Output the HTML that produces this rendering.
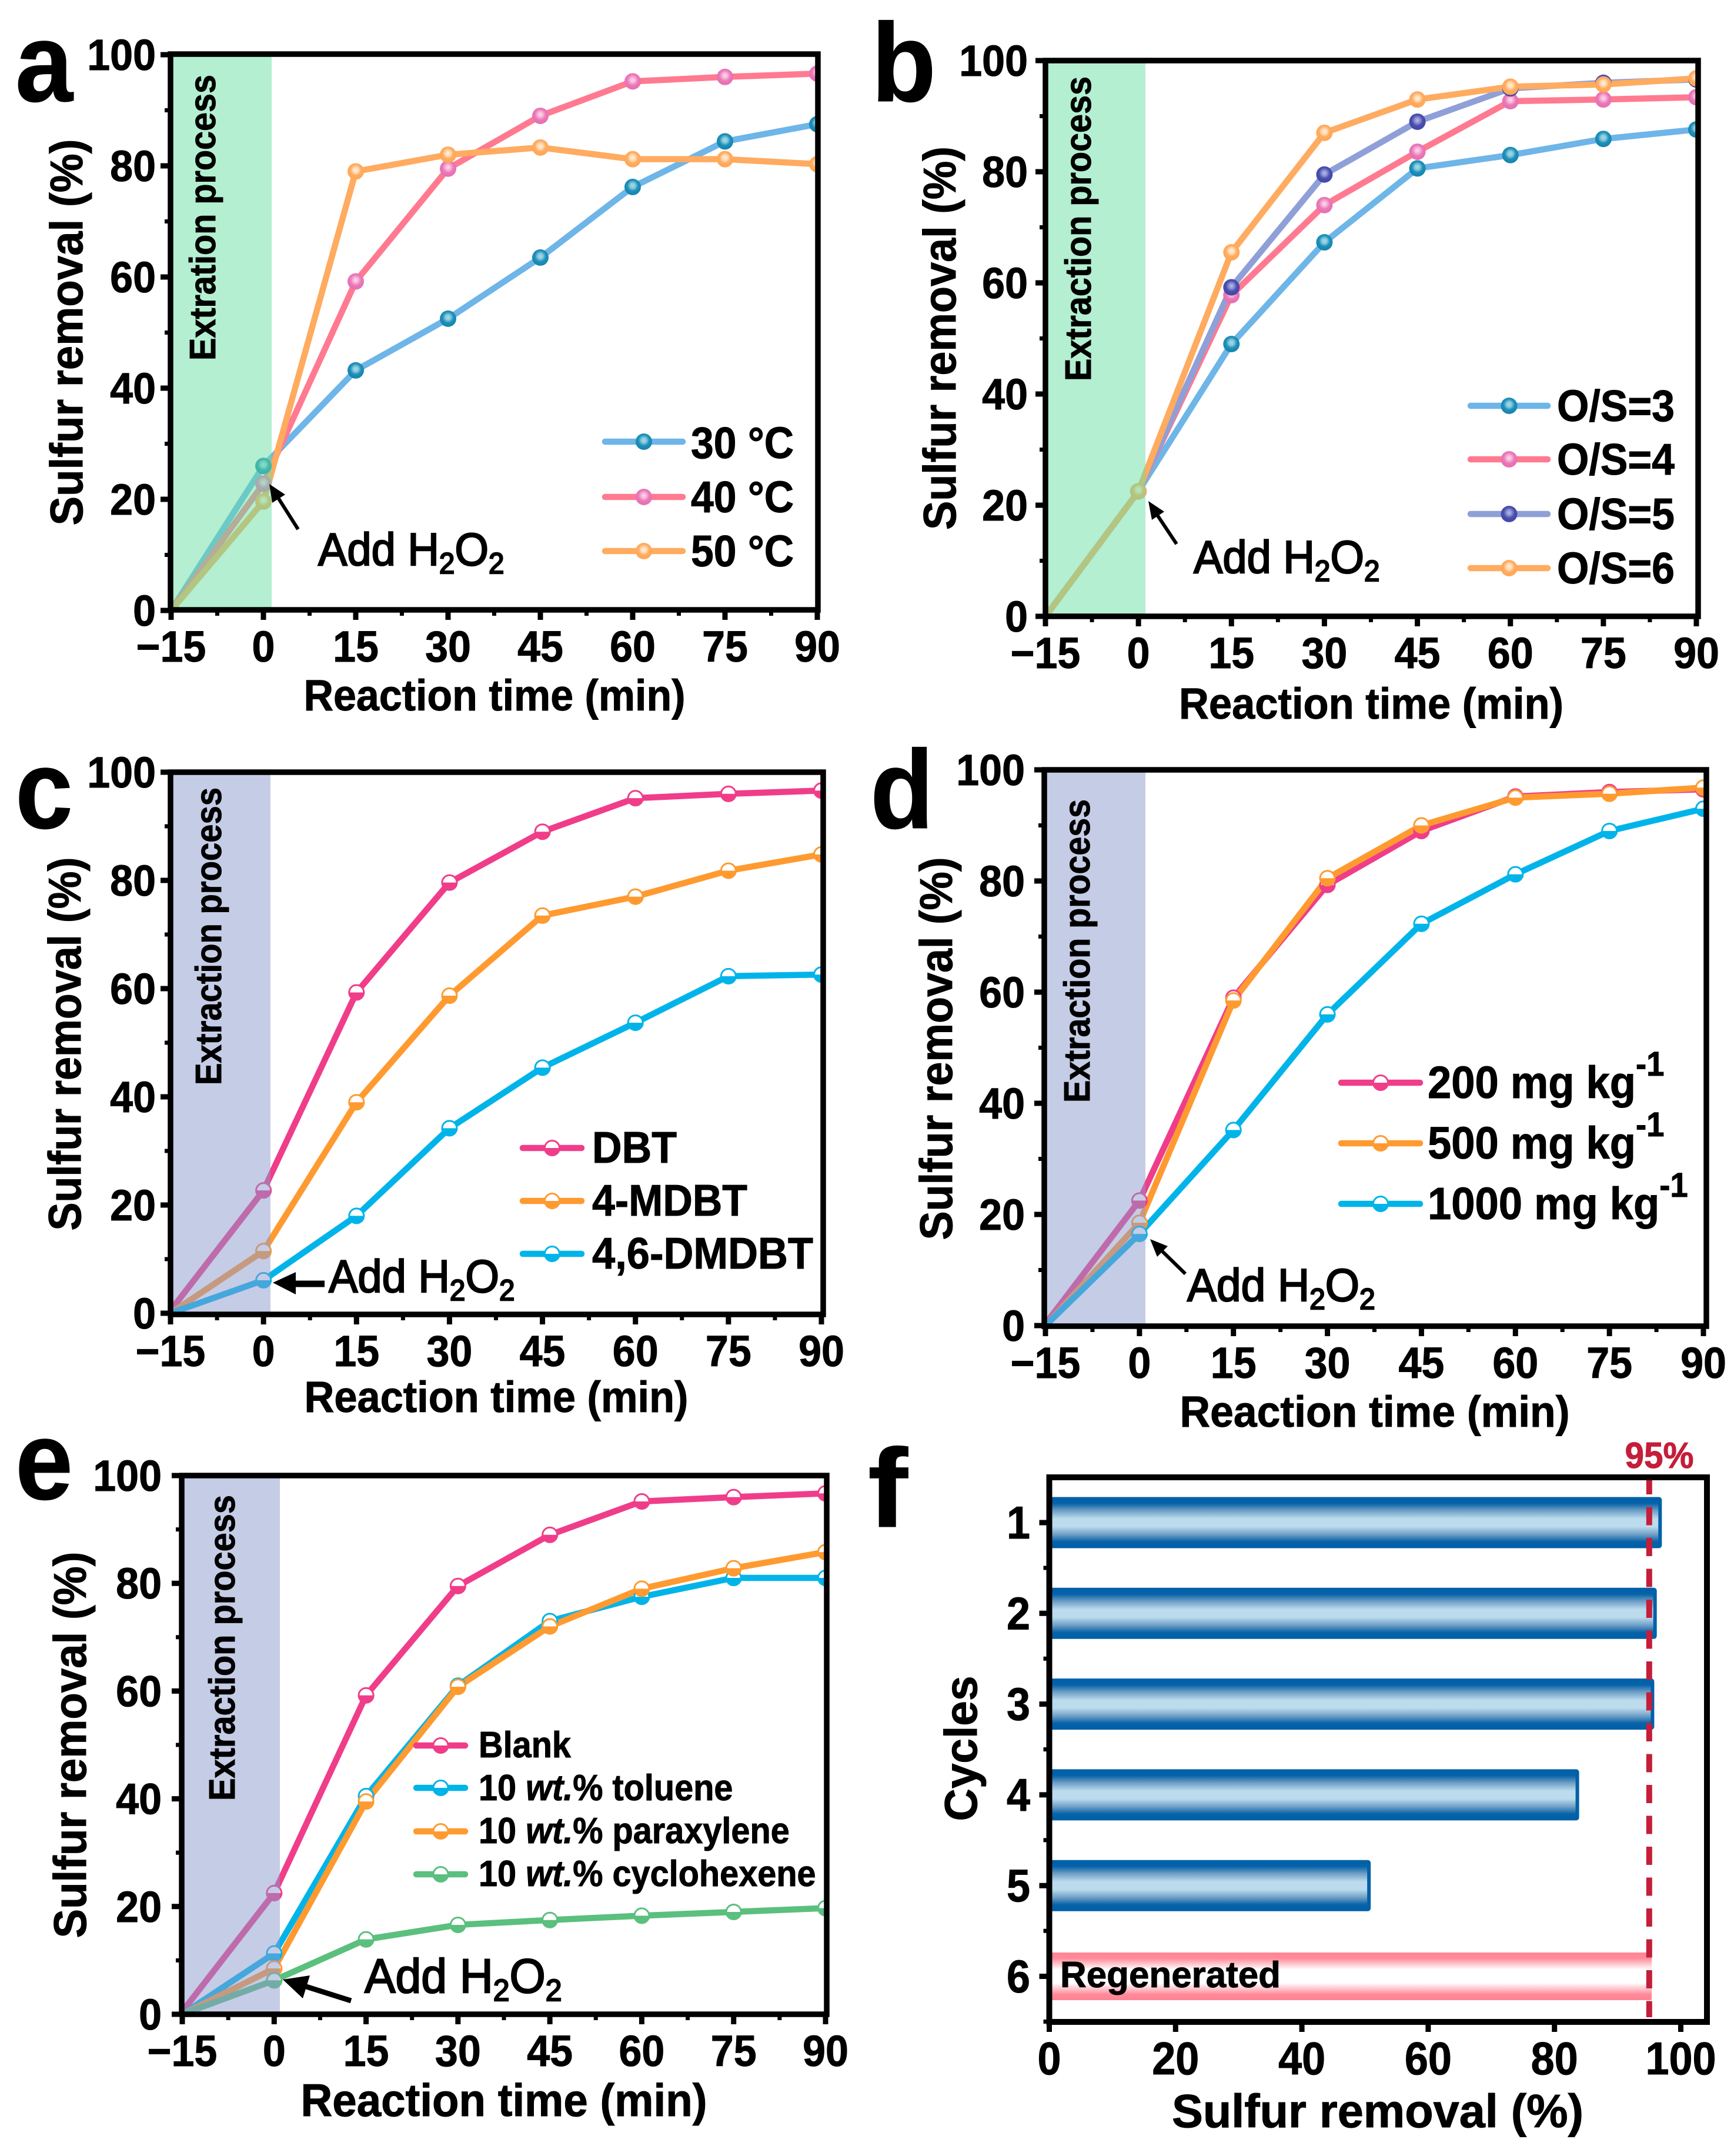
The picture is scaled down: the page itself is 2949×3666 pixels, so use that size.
<!DOCTYPE html>
<html lang="en">
<head>
<meta charset="utf-8">
<title>Sulfur removal multi-panel figure</title>
<style>
  html,body{margin:0;padding:0;background:#fff;}
  svg{display:block;font-family:"Liberation Sans",Arial,sans-serif;}
  text{stroke:#000;stroke-width:1px;}
  .title{font-weight:700;fill:#000;}
  .legend{font-weight:700;font-size:75px;fill:#000;}
  .legend-small{font-weight:700;font-size:62px;fill:#000;}
  .note{font-weight:400;fill:#000;stroke:#000;stroke-width:2.4px;font-size:78px;}
  .letter{font-weight:700;fill:#000;font-size:190px;}
  .proc{font-weight:700;font-size:62px;fill:#000;}
</style>
</head>
<body>
<svg id="figure" xmlns="http://www.w3.org/2000/svg" width="2949" height="3666" viewBox="0 0 2949 3666">
  <defs>
    <radialGradient id="sphere-blue" cx=".5" cy=".42" r=".55"><stop offset="0" stop-color="#a8dbe4"/><stop offset=".3" stop-color="#84c8dc"/><stop offset=".6" stop-color="#1f90ba"/><stop offset="1" stop-color="#1584ae"/></radialGradient>
    <radialGradient id="sphere-pink" cx=".5" cy=".42" r=".55"><stop offset="0" stop-color="#fbdcee"/><stop offset=".3" stop-color="#f7b4d8"/><stop offset=".6" stop-color="#ea78b8"/><stop offset="1" stop-color="#e66fb0"/></radialGradient>
    <radialGradient id="sphere-orange" cx=".5" cy=".42" r=".55"><stop offset="0" stop-color="#ffeedd"/><stop offset=".3" stop-color="#ffdcb6"/><stop offset=".6" stop-color="#ffab60"/><stop offset="1" stop-color="#ffa755"/></radialGradient>
    <radialGradient id="sphere-purple" cx=".5" cy=".42" r=".55"><stop offset="0" stop-color="#b9bde8"/><stop offset=".3" stop-color="#8d90d2"/><stop offset=".6" stop-color="#4a4fae"/><stop offset="1" stop-color="#4348a6"/></radialGradient>
    <linearGradient id="bar-blue" x1="0" y1="0" x2="0" y2="1"><stop offset="0" stop-color="#0060a8"/><stop offset=".1" stop-color="#0863a8"/><stop offset=".25" stop-color="#6f9fc6"/><stop offset=".42" stop-color="#bcdcee"/><stop offset=".58" stop-color="#bcdcee"/><stop offset=".75" stop-color="#6f9fc6"/><stop offset=".9" stop-color="#0863a8"/><stop offset="1" stop-color="#0060a8"/></linearGradient>
    <linearGradient id="bar-red" x1="0" y1="0" x2="0" y2="1"><stop offset="0" stop-color="#ff8393"/><stop offset=".12" stop-color="#ff8a99"/><stop offset=".36" stop-color="#ffffff"/><stop offset=".64" stop-color="#ffffff"/><stop offset=".88" stop-color="#ff8a99"/><stop offset="1" stop-color="#ff8393"/></linearGradient>
  </defs>

  <g id="charts"></g>

  <!-- panel letters -->
  <text class="letter" x="26" y="172" textLength="98" lengthAdjust="spacingAndGlyphs">a</text>
  <text class="letter" x="1482" y="172" textLength="110" lengthAdjust="spacingAndGlyphs">b</text>
  <text class="letter" x="26" y="1408" textLength="98" lengthAdjust="spacingAndGlyphs">c</text>
  <text class="letter" x="1480" y="1408" textLength="108" lengthAdjust="spacingAndGlyphs">d</text>
  <text class="letter" x="26" y="2549" textLength="98" lengthAdjust="spacingAndGlyphs">e</text>
  <text class="letter" x="1476" y="2596" textLength="68" lengthAdjust="spacingAndGlyphs">f</text>

  <!-- y-axis titles -->
  <text class="title" font-size="78" text-anchor="middle" transform="translate(140,565) rotate(-90)" textLength="657" lengthAdjust="spacingAndGlyphs">Sulfur removal (%)</text>
  <text class="title" font-size="78" text-anchor="middle" transform="translate(1625,575) rotate(-90)" textLength="652" lengthAdjust="spacingAndGlyphs">Sulfur removal (%)</text>
  <text class="title" font-size="78" text-anchor="middle" transform="translate(137,1775) rotate(-90)" textLength="635" lengthAdjust="spacingAndGlyphs">Sulfur removal (%)</text>
  <text class="title" font-size="78" text-anchor="middle" transform="translate(1619,1783) rotate(-90)" textLength="651" lengthAdjust="spacingAndGlyphs">Sulfur removal (%)</text>
  <text class="title" font-size="78" text-anchor="middle" transform="translate(146,2967) rotate(-90)" textLength="657" lengthAdjust="spacingAndGlyphs">Sulfur removal (%)</text>
  <text class="title" font-size="78" text-anchor="middle" transform="translate(1661,2973) rotate(-90)" textLength="247" lengthAdjust="spacingAndGlyphs">Cycles</text>

  <!-- x-axis titles -->
  <text class="title" font-size="74" text-anchor="middle" x="841" y="1208" textLength="649" lengthAdjust="spacingAndGlyphs">Reaction time (min)</text>
  <text class="title" font-size="74" text-anchor="middle" x="2332" y="1222" textLength="654" lengthAdjust="spacingAndGlyphs">Reaction time (min)</text>
  <text class="title" font-size="74" text-anchor="middle" x="844" y="2401" textLength="653" lengthAdjust="spacingAndGlyphs">Reaction time (min)</text>
  <text class="title" font-size="74" text-anchor="middle" x="2338" y="2426" textLength="663" lengthAdjust="spacingAndGlyphs">Reaction time (min)</text>
  <text class="title" font-size="78" text-anchor="middle" x="857" y="3598" textLength="691" lengthAdjust="spacingAndGlyphs">Reaction time (min)</text>
  <text class="title" font-size="80" text-anchor="middle" x="2343" y="3617" textLength="700" lengthAdjust="spacingAndGlyphs">Sulfur removal (%)</text>

  <!-- shaded region labels -->
  <text class="proc" text-anchor="middle" transform="translate(366,370) rotate(-90)" textLength="486" lengthAdjust="spacingAndGlyphs">Extration process</text>
  <text class="proc" text-anchor="middle" transform="translate(1855,389) rotate(-90)" textLength="518" lengthAdjust="spacingAndGlyphs">Extraction process</text>
  <text class="proc" text-anchor="middle" transform="translate(376,1592) rotate(-90)" textLength="506" lengthAdjust="spacingAndGlyphs">Extraction process</text>
  <text class="proc" text-anchor="middle" transform="translate(1853,1617) rotate(-90)" textLength="516" lengthAdjust="spacingAndGlyphs">Extraction process</text>
  <text class="proc" text-anchor="middle" transform="translate(399,2802) rotate(-90)" textLength="520" lengthAdjust="spacingAndGlyphs">Extraction process</text>

  <!-- Add H2O2 notes -->
  <text class="note" transform="translate(541,961) scale(.95,1)">Add H<tspan font-size="50" dy="14">2</tspan><tspan dy="-14">O</tspan><tspan font-size="50" dy="14">2</tspan></text>
  <text class="note" transform="translate(2030,974) scale(.95,1)">Add H<tspan font-size="50" dy="14">2</tspan><tspan dy="-14">O</tspan><tspan font-size="50" dy="14">2</tspan></text>
  <text class="note" transform="translate(559,2197) scale(.95,1)">Add H<tspan font-size="50" dy="14">2</tspan><tspan dy="-14">O</tspan><tspan font-size="50" dy="14">2</tspan></text>
  <text class="note" transform="translate(2019,2212) scale(.96,1)">Add H<tspan font-size="50" dy="14">2</tspan><tspan dy="-14">O</tspan><tspan font-size="50" dy="14">2</tspan></text>
  <text class="note" transform="translate(620,3388) scale(.96,1)" style="font-size:82px">Add H<tspan font-size="52" dy="14">2</tspan><tspan dy="-14">O</tspan><tspan font-size="52" dy="14">2</tspan></text>

  <!-- arrows -->
  <g><line x1="507" y1="900" x2="474" y2="848" stroke="#000" stroke-width="6"/><polygon points="458,823 485,841 463,855" fill="#000"/></g>
  <g><line x1="2001" y1="925" x2="1969" y2="877" stroke="#000" stroke-width="6"/><polygon points="1953,852 1980,870 1959,884" fill="#000"/></g>
  <g><line x1="552" y1="2183" x2="500" y2="2183" stroke="#000" stroke-width="11"/><polygon points="464,2181 503,2163 503,2201" fill="#000"/></g>
  <g><line x1="2016" y1="2166" x2="1977" y2="2128" stroke="#000" stroke-width="6"/><polygon points="1956,2107 1986,2119 1968,2137" fill="#000"/></g>
  <g><line x1="597" y1="3402" x2="521" y2="3378" stroke="#000" stroke-width="9"/><polygon points="481,3366 527,3359 515,3398" fill="#000"/></g>

  <!-- legends text -->
  <text class="legend" x="1175" y="779" textLength="175" lengthAdjust="spacingAndGlyphs">30 °C</text>
  <text class="legend" x="1175" y="871" textLength="175" lengthAdjust="spacingAndGlyphs">40 °C</text>
  <text class="legend" x="1175" y="963" textLength="175" lengthAdjust="spacingAndGlyphs">50 °C</text>

  <text class="legend" x="2648" y="716" textLength="200" lengthAdjust="spacingAndGlyphs">O/S=3</text>
  <text class="legend" x="2648" y="807" textLength="200" lengthAdjust="spacingAndGlyphs">O/S=4</text>
  <text class="legend" x="2648" y="900" textLength="200" lengthAdjust="spacingAndGlyphs">O/S=5</text>
  <text class="legend" x="2648" y="992" textLength="200" lengthAdjust="spacingAndGlyphs">O/S=6</text>

  <text class="legend" x="1007" y="1977" textLength="144" lengthAdjust="spacingAndGlyphs">DBT</text>
  <text class="legend" x="1007" y="2067" textLength="264" lengthAdjust="spacingAndGlyphs">4-MDBT</text>
  <text class="legend" x="1007" y="2157" textLength="376" lengthAdjust="spacingAndGlyphs">4,6-DMDBT</text>

  <text class="legend" transform="translate(2428,1867) scale(.94,1)" style="font-size:77px">200 mg kg<tspan font-size="58" dy="-38">-1</tspan></text>
  <text class="legend" transform="translate(2428,1970) scale(.94,1)" style="font-size:77px">500 mg kg<tspan font-size="58" dy="-38">-1</tspan></text>
  <text class="legend" transform="translate(2428,2073) scale(.94,1)" style="font-size:77px">1000 mg kg<tspan font-size="58" dy="-38">-1</tspan></text>

  <text class="legend-small" transform="translate(814,2988) scale(.93,1)">Blank</text>
  <text class="legend-small" transform="translate(814,3061) scale(.93,1)">10 <tspan font-style="italic">wt.</tspan>% toluene</text>
  <text class="legend-small" transform="translate(814,3134) scale(.93,1)">10 <tspan font-style="italic">wt.</tspan>% paraxylene</text>
  <text class="legend-small" transform="translate(814,3207) scale(.93,1)">10 <tspan font-style="italic">wt.</tspan>% cyclohexene</text>

  <!-- panel f notes -->
  <text x="2822" y="2496" text-anchor="middle" font-size="62" font-weight="700" fill="#c41e3a" style="stroke:#c41e3a" textLength="117" lengthAdjust="spacingAndGlyphs">95%</text>
  <text x="1803" y="3379" font-size="62" font-weight="700" fill="#000" textLength="375" lengthAdjust="spacingAndGlyphs">Regenerated</text>
</svg>

<script>
// ---------- shared axes ----------
const timeCategories = [-15, 0, 15, 30, 45, 60, 75, 90];
const timeTickLabels = ['\u221215', '0', '15', '30', '45', '60', '75', '90'];
const removalTicks = [0, 20, 40, 60, 80, 100];

// ---------- panel a: temperature ----------
const panelA30C = [0, 26, 43.2, 52.5, 63.5, 76.2, 84.4, 87.5];
const panelA40C = [0, 22.8, 59.2, 79.5, 89, 95.2, 96, 96.6];
const panelA50C = [0, 19.6, 79, 82, 83.3, 81.2, 81.2, 80.3];

// ---------- panel b: O/S ratio ----------
const panelBOS3 = [0, 22.5, 49, 67.3, 80.6, 83, 85.9, 87.6];
const panelBOS4 = [0, 22.5, 57.8, 74, 83.6, 92.7, 93, 93.4];
const panelBOS5 = [0, 22.5, 59.2, 79.5, 89, 95, 96, 96.6];
const panelBOS6 = [0, 22.5, 65.5, 87, 93, 95.3, 95.7, 96.8];

// ---------- panel c: sulfur compounds ----------
const panelCDBT = [0.5, 22.7, 59.3, 79.6, 89, 95.2, 96, 96.6];
const panelCMDBT = [0, 11.5, 39, 58.7, 73.5, 77, 81.8, 84.8];
const panelCDMDBT = [0, 6.1, 18, 34.2, 45.4, 53.7, 62.3, 62.6];

// ---------- panel d: initial concentration ----------
const panelD200 = [0.3, 22.5, 59, 79.3, 89, 95.2, 96, 96.5];
const panelD500 = [0, 18.5, 58.5, 80.5, 90, 95, 95.7, 96.8];
const panelD1000 = [0, 16.5, 35.2, 56, 72.3, 81.2, 89, 93];

// ---------- panel e: co-existing compounds ----------
const panelEBlank = [0.5, 22.5, 59.2, 79.5, 89, 95.2, 96, 96.7];
const panelEToluene = [0, 11.3, 40.5, 61, 73, 77.5, 81, 81];
const panelEParaxylene = [0, 8.5, 39.5, 60.8, 72, 79, 82.8, 85.8];
const panelECyclohexene = [0, 6.3, 13.9, 16.6, 17.5, 18.3, 19, 19.7];

// ---------- panel f: recycling ----------
const cycleLabels = ['1', '2', '3', '4', '5', '6'];
const cycleRemoval = [97, 96.2, 95.8, 83.9, 50.9, 95.4];
const cycleXTicks = [0, 20, 40, 60, 80, 100];
const thresholdValue = [95];

const pink = '#f03d8a', orange = '#ff9a30', cyan = '#00b4ea', green = '#5bbf7e';
const panels = [
  {id:'a', left:290, right:1391, top:92, bottom:1037, xMin:291, xMax:1390, yTop:93, yBot:1038, shadeRight:462, labelGap:25,
   shade:'rgb(103,223,161)', style:'sphere', legendX:[1029,1161], legendY:[751,845,937],
   series:[{v:panelA30C,line:'#6eb5e8',fill:'url(#sphere-blue)'},{v:panelA40C,line:'#ff7a90',fill:'url(#sphere-pink)'},{v:panelA50C,line:'#ffab60',fill:'url(#sphere-orange)'}]},
  {id:'b', left:1778, right:2888, top:103, bottom:1048, xMin:1778, xMax:2885, yTop:103, yBot:1048, shadeRight:1948, labelGap:30,
   shade:'rgb(103,223,161)', style:'sphere', legendX:[2501,2632], legendY:[690,781,874,966],
   series:[{v:panelBOS3,line:'#6eb5e8',fill:'url(#sphere-blue)'},{v:panelBOS4,line:'#ff7a90',fill:'url(#sphere-pink)'},{v:panelBOS5,line:'#8f9fd8',fill:'url(#sphere-purple)'},{v:panelBOS6,line:'#ffab60',fill:'url(#sphere-orange)'}]},
  {id:'c', left:290, right:1400, top:1313, bottom:2235, xMin:290, xMax:1397, yTop:1313, yBot:2233, shadeRight:460, labelGap:25,
   shade:'rgb(139,153,205)', style:'half', legendX:[889,989], legendY:[1952,2042,2132],
   series:[{v:panelCDBT,line:pink,fill:pink},{v:panelCMDBT,line:orange,fill:orange},{v:panelCDMDBT,line:cyan,fill:cyan}]},
  {id:'d', left:1776, right:2902, top:1309, bottom:2255, xMin:1778, xMax:2897, yTop:1309, yBot:2254, shadeRight:1948, labelGap:33,
   shade:'rgb(139,153,205)', style:'half', legendX:[2281,2415], legendY:[1841,1944,2047],
   series:[{v:panelD200,line:pink,fill:pink},{v:panelD500,line:orange,fill:orange},{v:panelD1000,line:cyan,fill:cyan}]},
  {id:'e', left:309, right:1406, top:2509, bottom:3425, xMin:310, xMax:1404, yTop:2509, yBot:3425, shadeRight:476, labelGap:34,
   shade:'rgb(139,153,205)', style:'half', legendX:[708,791], legendY:[2968,3040,3114,3187],
   series:[{v:panelEBlank,line:pink,fill:pink},{v:panelEToluene,line:cyan,fill:cyan},{v:panelEParaxylene,line:orange,fill:orange},{v:panelECyclohexene,line:green,fill:green}]}
];

const NS = 'http://www.w3.org/2000/svg';
const root = document.getElementById('charts');
const defs = document.querySelector('#figure defs');

function make(tag, attrs, parent) {
  const el = document.createElementNS(NS, tag);
  for (const k in attrs) el.setAttribute(k, attrs[k]);
  parent.appendChild(el);
  return el;
}

// width a tick label would have at the basis size, so taller glyphs keep the reference's narrow set
function labelWidth(text, basis) {
  let em = 0;
  for (const ch of text) em += ch === '\u2212' ? 0.584 : 0.556;
  return em * basis;
}

function drawMarker(parent, p, cx, cy, s) {
  if (p.style === 'sphere') {
    const dot = make('circle', {cx: cx, cy: cy, r: 14, fill: s.fill}, parent);
    
    
  } else {
    const r = 12.5;
    const dot = make('circle', {cx: cx, cy: cy, r: r, fill: '#fff', stroke: s.fill, 'stroke-width': 3}, parent);
    
    
    const lower = make('path', {d: 'M' + (cx - r - 1.5) + ' ' + cy + ' A' + (r + 1.5) + ' ' + (r + 1.5) + ' 0 0 0 ' + (cx + r + 1.5) + ' ' + cy + ' Z', fill: s.fill}, parent);
    
    
  }
}

function drawPanel(p) {
  const xAxis = t => p.xMin + (t + 15) / 105 * (p.xMax - p.xMin);
  const yAxis = v => p.yBot - v / 100 * (p.yBot - p.yTop);

  const group = make('g', {}, root);
  
  

  const clip = make('clipPath', {id: 'clip-' + p.id}, defs);
  make('rect', {x: p.left, y: p.top, width: p.right - p.left, height: p.bottom - p.top}, clip);

  const plot = make('g', {'clip-path': 'url(#clip-' + p.id + ')'}, group);
  
  

  p.series.forEach(s => {
    const pts = s.v.map((v, i) => xAxis(timeCategories[i]) + ',' + yAxis(v)).join(' ');
    const line = make('polyline', {points: pts, fill: 'none', stroke: s.line, 'stroke-width': 10.5, 'stroke-linejoin': 'round'}, plot);
    
    
  });
  p.series.forEach(s => {
    s.v.forEach((v, i) => {
      if (i === 0) return;
      drawMarker(plot, p, xAxis(timeCategories[i]), yAxis(v), s);
    });
  });

  const shade = make('rect', {x: p.left, y: p.top, width: p.shadeRight - p.left, height: p.bottom - p.top, fill: p.shade, 'fill-opacity': .5}, group);
  
  

  const frame = make('rect', {x: p.left, y: p.top, width: p.right - p.left, height: p.bottom - p.top, fill: 'none', stroke: '#000', 'stroke-width': 9.5}, group);
  
  

  timeCategories.forEach((t, i) => {
    const x = xAxis(t);
    const tick = make('line', {x1: x, x2: x, y1: p.bottom, y2: p.bottom + 17, stroke: '#000', 'stroke-width': 9}, group);
    
    
    const label = make('text', {x: x, y: p.bottom + 88, 'text-anchor': 'middle', 'font-size': 74, 'font-weight': 700, textLength: labelWidth(timeTickLabels[i], 70), lengthAdjust: 'spacingAndGlyphs'}, group);
    
    
    label.textContent = timeTickLabels[i];
    if (i < timeCategories.length - 1) {
      const mx = xAxis(t + 7.5);
      const minor = make('line', {x1: mx, x2: mx, y1: p.bottom, y2: p.bottom + 10, stroke: '#000', 'stroke-width': 7}, group);
      
      
    }
  });

  removalTicks.forEach((v, i) => {
    const y = yAxis(v);
    const tick = make('line', {x1: p.left, x2: p.left - 17, y1: y, y2: y, stroke: '#000', 'stroke-width': 9}, group);
    
    
    const label = make('text', {x: p.left - p.labelGap, y: y + 26, 'text-anchor': 'end', 'font-size': 74, 'font-weight': 700, textLength: labelWidth(String(v), 70), lengthAdjust: 'spacingAndGlyphs'}, group);
    
    
    label.textContent = String(v);
    if (i < removalTicks.length - 1) {
      const my = yAxis(v + 10);
      const minor = make('line', {x1: p.left, x2: p.left - 10, y1: my, y2: my, stroke: '#000', 'stroke-width': 7}, group);
      
      
    }
  });

  p.series.forEach((s, i) => {
    const y = p.legendY[i];
    const swatch = make('line', {x1: p.legendX[0], x2: p.legendX[1], y1: y, y2: y, stroke: s.line, 'stroke-width': 10.5, 'stroke-linecap': 'round'}, group);
    
    
    drawMarker(group, p, (p.legendX[0] + p.legendX[1]) / 2, y, s);
  });
}

function drawPanelF() {
  const left = 1784.5, right = 2903, top = 2512, bottom = 3438;
  const xAxis = v => left + v * 10.74;
  const yAxis = i => 2589 + i * 154.3;
  const barHeight = 81;

  const group = make('g', {}, root);
  
  

  cycleRemoval.forEach((v, i) => {
    const regenerated = i === cycleRemoval.length - 1;
    const bar = make('rect', {
      x: left, y: yAxis(i) - barHeight / 2, width: xAxis(v) - left - (regenerated ? 0 : 3), height: barHeight, rx: 2,
      fill: regenerated ? 'url(#bar-red)' : 'url(#bar-blue)',
      stroke: regenerated ? 'none' : '#0060a8', 'stroke-width': regenerated ? 0 : 6
    }, group);
    
    
  });

  const x95 = xAxis(thresholdValue[0]);
  const threshold = make('line', {x1: x95, x2: x95, y1: 2510, y2: 3430, stroke: '#c41e3a', 'stroke-width': 10, 'stroke-dasharray': '31 21.5'}, group);
  
  

  const frame = make('rect', {x: left, y: top, width: right - left, height: bottom - top, fill: 'none', stroke: '#000', 'stroke-width': 10}, group);
  
  

  cycleXTicks.forEach(v => {
    const x = xAxis(v);
    const tick = make('line', {x1: x, x2: x, y1: bottom, y2: bottom + 17, stroke: '#000', 'stroke-width': 9}, group);
    
    
    const label = make('text', {x: x, y: bottom + 89, 'text-anchor': 'middle', 'font-size': 78, 'font-weight': 700, textLength: labelWidth(String(v), 72), lengthAdjust: 'spacingAndGlyphs'}, group);
    
    
    label.textContent = String(v);
  });

  cycleLabels.forEach((c, i) => {
    const y = yAxis(i);
    const tick = make('line', {x1: left, x2: left - 17, y1: y, y2: y, stroke: '#000', 'stroke-width': 9}, group);
    
    
    const label = make('text', {x: 1752, y: y + 27, 'text-anchor': 'end', 'font-size': 78, 'font-weight': 700, textLength: labelWidth(c, 72), lengthAdjust: 'spacingAndGlyphs'}, group);
    
    
    label.textContent = c;
    const minor = make('line', {x1: left, x2: left - 10, y1: y + 77, y2: y + 77, stroke: '#000', 'stroke-width': 7}, group);
    
    
  });
}

panels.forEach(drawPanel);
drawPanelF();
</script>
</body>
</html>
